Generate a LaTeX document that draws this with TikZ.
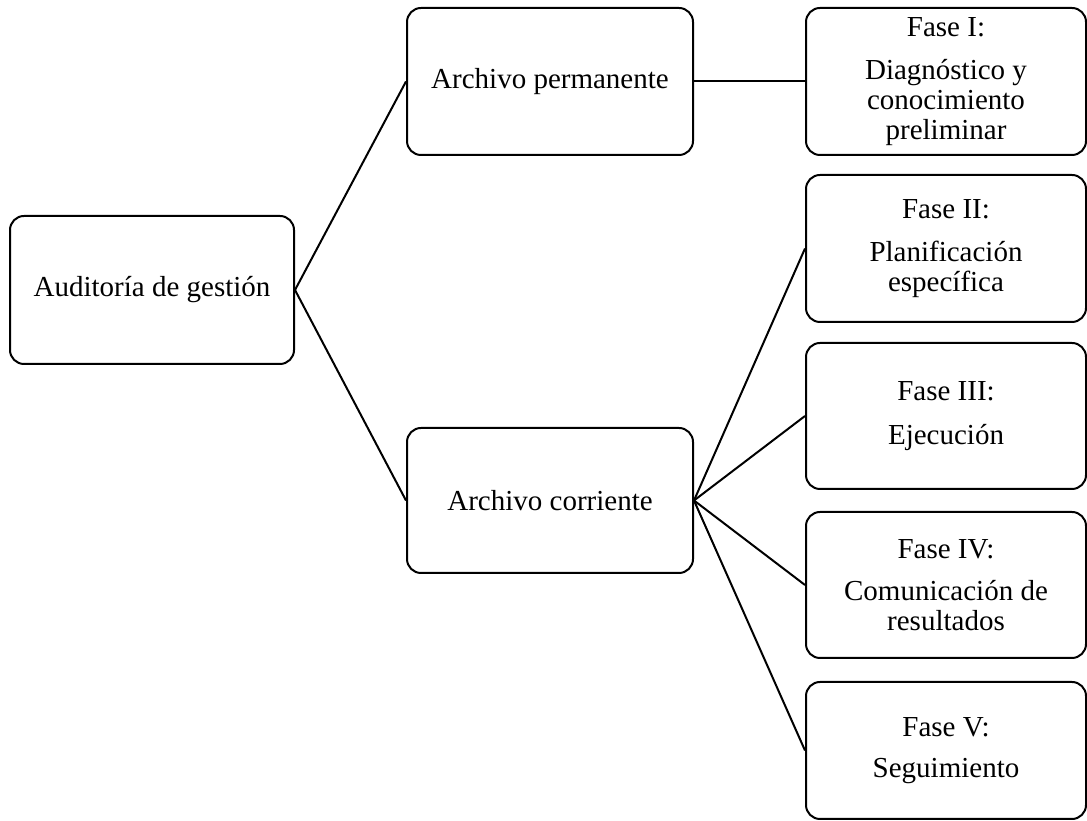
\documentclass[tikz,border=0pt]{standalone}
\usepackage{fontspec}
\setmainfont{Liberation Serif}
\begin{document}
\begin{tikzpicture}[x=1pt,y=1pt,
  box/.style={draw=black, line width=2pt, rounded corners=14pt, fill=white,
    align=center, inner sep=0pt, font=\fontsize{29}{30}\selectfont},
  link/.style={draw=black, line width=2pt}]
\useasboundingbox (0,0) rectangle (1087,821);
% centres: x px, y = 821 - y px
\node[box, minimum width=284pt, minimum height=148pt] (aud) at (152,531) {Auditoría de gestión};
\node[box, minimum width=286pt, minimum height=147pt] (perm) at (550,739.5) {Archivo permanente};
\node[box, minimum width=286pt, minimum height=145pt] (corr) at (550,320.5) {Archivo corriente};
\node[box, minimum width=280pt, minimum height=147pt] (f1) at (946,739.5)
  {Fase I:\\[13pt]Diagnóstico y\\conocimiento\\preliminar};
\node[box, minimum width=280pt, minimum height=147pt] (f2) at (946,572.5)
  {Fase II:\\[13pt]Planificación\\específica};
\node[box, minimum width=280pt, minimum height=146pt] (f3) at (946,405)
  {Fase III:\\[14pt]Ejecución};
\node[box, minimum width=280pt, minimum height=146pt] (f4) at (946,236)
  {Fase IV:\\[12pt]Comunicación de\\resultados};
\node[box, minimum width=280pt, minimum height=137pt] (f5) at (946,70.5)
  {Fase V:\\[11pt]Seguimiento};
\draw[link] (aud.east) -- (perm.west);
\draw[link] (aud.east) -- (corr.west);
\draw[link] (perm.east) -- (f1.west);
\draw[link] (corr.east) -- (f2.west);
\draw[link] (corr.east) -- (f3.west);
\draw[link] (corr.east) -- (f4.west);
\draw[link] (corr.east) -- (f5.west);
\end{tikzpicture}
\end{document}
